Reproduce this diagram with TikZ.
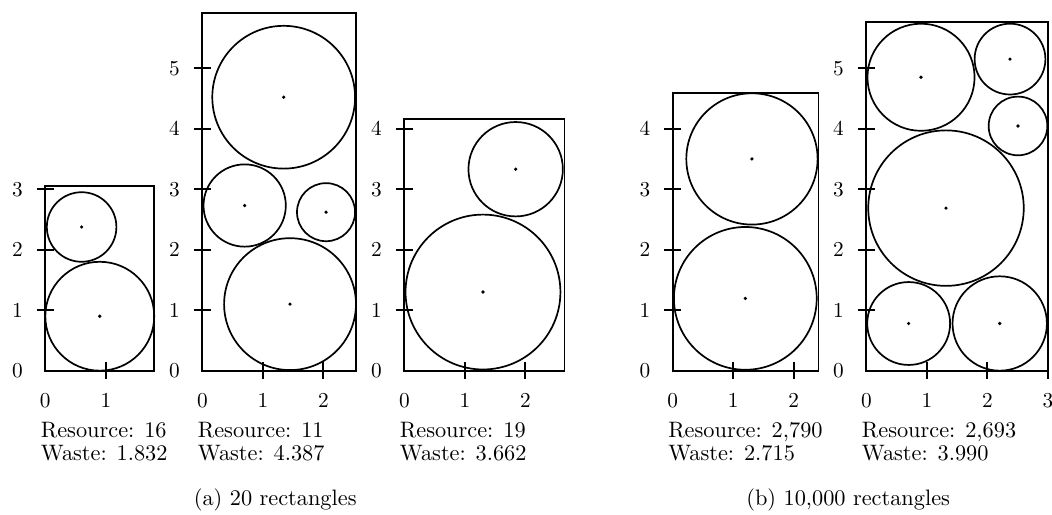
\documentclass[tikz,border=0pt]{standalone}
\usepackage{tikz}
\usetikzlibrary{positioning}

\begin{document}
\begin{tikzpicture}[
  x=1cm, y=1cm,
  frame/.style={draw, line width=0.8pt},
  disc/.style={draw, line width=0.8pt},
  centre/.style={fill=black},
  tickmark/.style={line width=0.8pt},
  ticklabel/.style={font=\fontsize{10}{12}\selectfont, inner sep=1pt},
  infolabel/.style={font=\fontsize{10.5}{12.5}\selectfont, anchor=base west, inner sep=0pt},
  caption/.style={font=\fontsize{10.5}{12.5}\selectfont, anchor=base},
]
  \useasboundingbox (-0.749,-2.369) rectangle (16.639,6.127);

  % (a) 20 rectangles, first packing
  \begin{scope}[shift={(0,0)}]
    \draw [frame] (0,0) rectangle (1.8,3.05);
    \draw [disc] (0.9,0.9) circle (0.9);
    \draw [disc] (0.6,2.375) circle (0.575);
    \foreach \c in {(0.9,0.9),(0.6,2.375)} \fill [centre] \c circle (0.03);
    \foreach \y in {1,...,3} \draw [tickmark] (-0.14,\y) -- (0.14,\y);
    \foreach \x in {1} \draw [tickmark] (\x,-0.14) -- (\x,0.14);
    \foreach \y in {0,...,3} \node [ticklabel] at (-0.46,\y) {$\y$};
    \foreach \x in {0,1} \node [ticklabel] at (\x,-0.5) {$\x$};
    \node (resA) [infolabel] at (-0.08,-1.10) {Resource: 16};
    \node (wasteA) [infolabel] at (-0.08,-1.48) {Waste: 1.832};
  \end{scope}

  % (a) second packing
  \begin{scope}[shift={(2.595,0)}]
    \draw [frame] (0,0) rectangle (2.54,5.91);
    \draw [disc] (1.345,4.52) circle (1.18);
    \draw [disc] (0.70,2.73) circle (0.68);
    \draw [disc] (2.045,2.62) circle (0.48);
    \draw [disc] (1.45,1.10) circle (1.09);
    \foreach \c in {(1.345,4.52),(0.70,2.73),(2.045,2.62),(1.45,1.10)} \fill [centre] \c circle (0.03);
    \foreach \y in {1,...,5} \draw [tickmark] (-0.14,\y) -- (0.14,\y);
    \foreach \x in {1,2} \draw [tickmark] (\x,-0.14) -- (\x,0.14);
    \foreach \y in {0,...,5} \node [ticklabel] at (-0.46,\y) {$\y$};
    \foreach \x in {0,1,2} \node [ticklabel] at (\x,-0.5) {$\x$};
    \node (resB) [infolabel] at (-0.08,-1.10) {Resource: 11};
    \node (wasteB) [infolabel] at (-0.08,-1.48) {Waste: 4.387};
  \end{scope}

  % (a) third packing
  \begin{scope}[shift={(5.934,0)}]
    \draw [frame] (0,0) rectangle (2.645,4.16);
    \draw [disc] (1.3,1.3) circle (1.28);
    \draw [disc] (1.84,3.33) circle (0.78);
    \foreach \c in {(1.3,1.3),(1.84,3.33)} \fill [centre] \c circle (0.03);
    \foreach \y in {1,...,4} \draw [tickmark] (-0.14,\y) -- (0.14,\y);
    \foreach \x in {1,2} \draw [tickmark] (\x,-0.14) -- (\x,0.14);
    \foreach \y in {0,...,4} \node [ticklabel] at (-0.46,\y) {$\y$};
    \foreach \x in {0,1,2} \node [ticklabel] at (\x,-0.5) {$\x$};
    \node (resC) [infolabel] at (-0.08,-1.10) {Resource: 19};
    \node (wasteC) [infolabel] at (-0.08,-1.48) {Waste: 3.662};
  \end{scope}

  % (b) 10,000 rectangles, first packing
  \begin{scope}[shift={(10.370,0)}]
    \draw [frame] (0,0) rectangle (2.41,4.59);
    \draw [disc] (1.31,3.50) circle (1.085);
    \draw [disc] (1.20,1.195) circle (1.18);
    \foreach \c in {(1.31,3.50),(1.20,1.195)} \fill [centre] \c circle (0.03);
    \foreach \y in {1,...,4} \draw [tickmark] (-0.14,\y) -- (0.14,\y);
    \foreach \x in {1,2} \draw [tickmark] (\x,-0.14) -- (\x,0.14);
    \foreach \y in {0,...,4} \node [ticklabel] at (-0.46,\y) {$\y$};
    \foreach \x in {0,1,2} \node [ticklabel] at (\x,-0.5) {$\x$};
    \node (resD) [infolabel] at (-0.08,-1.10) {Resource: 2,790};
    \node (wasteD) [infolabel] at (-0.08,-1.48) {Waste: 2.715};
  \end{scope}

  % (b) second packing
  \begin{scope}[shift={(13.570,0)}]
    \draw [frame] (0,0) rectangle (3.0,5.76);
    \draw [disc] (0.904,4.85) circle (0.885);
    \draw [disc] (2.375,5.15) circle (0.585);
    \draw [disc] (2.507,4.045) circle (0.485);
    \draw [disc] (1.317,2.687) circle (1.285);
    \draw [disc] (0.70,0.78) circle (0.685);
    \draw [disc] (2.205,0.78) circle (0.78);
    \foreach \c in {(0.904,4.85),(2.375,5.15),(2.507,4.045),(1.317,2.687),(0.70,0.78),(2.205,0.78)} \fill [centre] \c circle (0.03);
    \foreach \y in {1,...,5} \draw [tickmark] (-0.14,\y) -- (0.14,\y);
    \foreach \x in {1,2,3} \draw [tickmark] (\x,-0.14) -- (\x,0.14);
    \foreach \y in {0,...,5} \node [ticklabel] at (-0.46,\y) {$\y$};
    \foreach \x in {0,1,2,3} \node [ticklabel] at (\x,-0.5) {$\x$};
    \node (resE) [infolabel] at (-0.08,-1.10) {Resource: 2,693};
    \node (wasteE) [infolabel] at (-0.08,-1.48) {Waste: 3.990};
  \end{scope}

  % Sub-captions
  \node (capA) [caption] at (3.80,-2.22) {(a) 20 rectangles};
  \node (capB) [caption] at (13.27,-2.22) {(b) 10,000 rectangles};
\end{tikzpicture}
\end{document}
